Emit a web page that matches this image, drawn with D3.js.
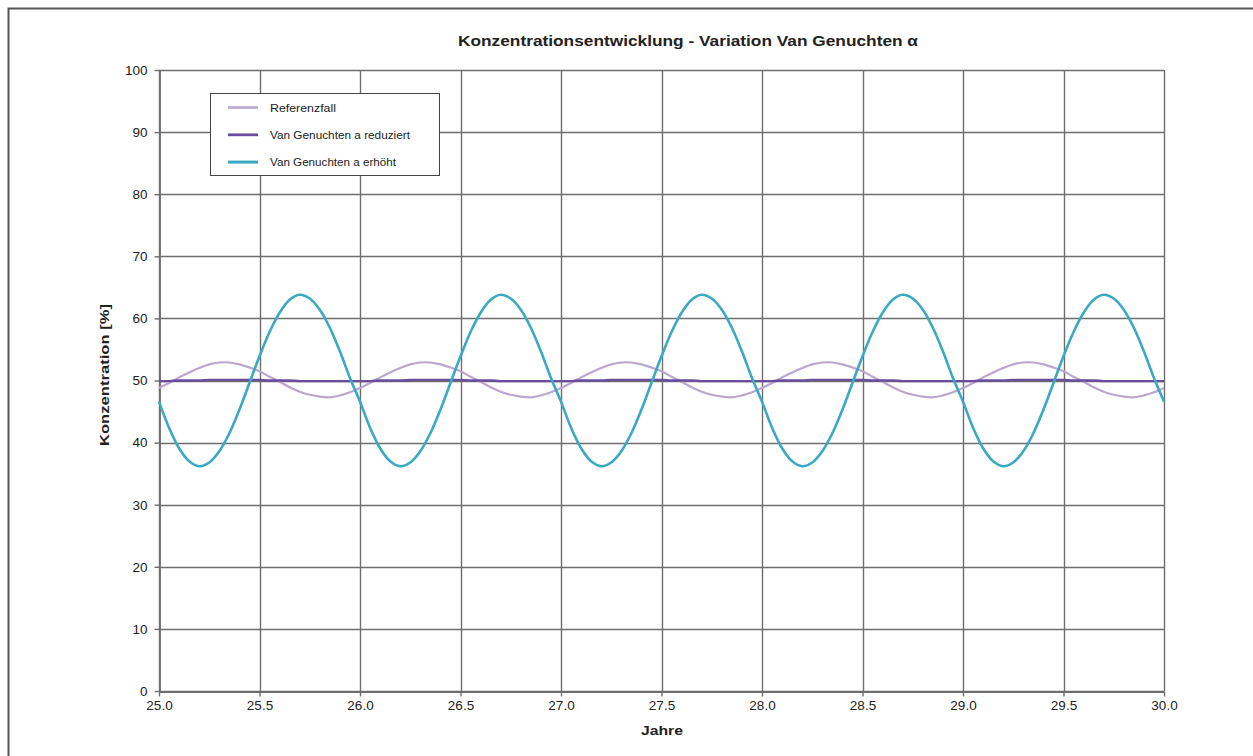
<!DOCTYPE html>
<html>
<head>
<meta charset="utf-8">
<script src="https://cdn.jsdelivr.net/npm/d3@7/dist/d3.min.js"></script>
<style>
  html, body { margin: 0; padding: 0; background: #fff; }
  svg { display: block; font-family: "Liberation Sans", Arial, Helvetica, sans-serif; }
</style>
</head>
<body>
<svg id="chart" width="1253" height="756"></svg>
<script>
// ---- Data ----
const years = [
  25.00,25.05,25.10,25.15,25.20,25.25,25.30,25.35,25.40,25.45,25.50,25.55,25.60,25.65,25.70,25.75,25.80,25.85,25.90,25.95,
  26.00,26.05,26.10,26.15,26.20,26.25,26.30,26.35,26.40,26.45,26.50,26.55,26.60,26.65,26.70,26.75,26.80,26.85,26.90,26.95,
  27.00,27.05,27.10,27.15,27.20,27.25,27.30,27.35,27.40,27.45,27.50,27.55,27.60,27.65,27.70,27.75,27.80,27.85,27.90,27.95,
  28.00,28.05,28.10,28.15,28.20,28.25,28.30,28.35,28.40,28.45,28.50,28.55,28.60,28.65,28.70,28.75,28.80,28.85,28.90,28.95,
  29.00,29.05,29.10,29.15,29.20,29.25,29.30,29.35,29.40,29.45,29.50,29.55,29.60,29.65,29.70,29.75,29.80,29.85,29.90,29.95,
  30.00
];
const referenzfall = [
  48.8,49.6,50.5,51.3,52.0,52.6,52.9,52.9,52.6,52.1,51.5,50.6,49.8,48.9,48.2,47.7,47.4,47.3,47.6,48.1,
  48.8,49.6,50.5,51.3,52.0,52.6,52.9,52.9,52.6,52.1,51.5,50.6,49.8,48.9,48.2,47.7,47.4,47.3,47.6,48.1,
  48.8,49.6,50.5,51.3,52.0,52.6,52.9,52.9,52.6,52.1,51.5,50.6,49.8,48.9,48.2,47.7,47.4,47.3,47.6,48.1,
  48.8,49.6,50.5,51.3,52.0,52.6,52.9,52.9,52.6,52.1,51.5,50.6,49.8,48.9,48.2,47.7,47.4,47.3,47.6,48.1,
  48.8,49.6,50.5,51.3,52.0,52.6,52.9,52.9,52.6,52.1,51.5,50.6,49.8,48.9,48.2,47.7,47.4,47.3,47.6,48.1,
  48.8
];
const alphaReduziert = [
  49.9,49.9,50.0,50.0,50.0,50.1,50.1,50.1,50.1,50.1,50.1,50.0,50.0,50.0,49.9,49.9,49.9,49.9,49.9,49.9,
  49.9,49.9,50.0,50.0,50.0,50.1,50.1,50.1,50.1,50.1,50.1,50.0,50.0,50.0,49.9,49.9,49.9,49.9,49.9,49.9,
  49.9,49.9,50.0,50.0,50.0,50.1,50.1,50.1,50.1,50.1,50.1,50.0,50.0,50.0,49.9,49.9,49.9,49.9,49.9,49.9,
  49.9,49.9,50.0,50.0,50.0,50.1,50.1,50.1,50.1,50.1,50.1,50.0,50.0,50.0,49.9,49.9,49.9,49.9,49.9,49.9,
  49.9,49.9,50.0,50.0,50.0,50.1,50.1,50.1,50.1,50.1,50.1,50.0,50.0,50.0,49.9,49.9,49.9,49.9,49.9,49.9,
  49.9
];
const alphaErhoeht = [
  46.6,42.4,39.1,37.0,36.2,36.8,38.6,41.5,45.3,49.6,53.9,57.8,60.9,63.0,63.8,63.2,61.4,58.5,54.7,50.4,
  46.6,42.4,39.1,37.0,36.2,36.8,38.6,41.5,45.3,49.6,53.9,57.8,60.9,63.0,63.8,63.2,61.4,58.5,54.7,50.4,
  46.6,42.4,39.1,37.0,36.2,36.8,38.6,41.5,45.3,49.6,53.9,57.8,60.9,63.0,63.8,63.2,61.4,58.5,54.7,50.4,
  46.6,42.4,39.1,37.0,36.2,36.8,38.6,41.5,45.3,49.6,53.9,57.8,60.9,63.0,63.8,63.2,61.4,58.5,54.7,50.4,
  46.6,42.4,39.1,37.0,36.2,36.8,38.6,41.5,45.3,49.6,53.9,57.8,60.9,63.0,63.8,63.2,61.4,58.5,54.7,50.4,
  46.6
];
const xTicks = [25.0,25.5,26.0,26.5,27.0,27.5,28.0,28.5,29.0,29.5,30.0];
const yTicks = [0,10,20,30,40,50,60,70,80,90,100];
const seriesNames = ["Referenzfall", "Van Genuchten a reduziert", "Van Genuchten a erhöht"];
const seriesColors = ["#bba6cf", "#6b4d9e", "#3aa9c2"];
const titleText = "Konzentrationsentwicklung - Variation Van Genuchten α";
const xLabel = "Jahre";
const yLabel = "Konzentration [%]";

// ---- Drawing ----
const svg = d3.select("#chart");
const W = 1253, H = 756;
const margin = { left: 159, top: 70, right: W - 1164, bottom: H - 691 };

// outer frame (clipped at right/bottom like the reference)
svg.append("path")
  .attr("d", `M8.5,${H + 5} L8.5,8.5 L${W + 5},8.5`)
  .attr("fill", "none").attr("stroke", "#555").attr("stroke-width", 2);

const x = d3.scaleLinear().domain([25, 30]).range([margin.left, W - margin.right]);
const y = d3.scaleLinear().domain([0, 100]).range([H - margin.bottom, margin.top]);

const gridColor = "#6e6e6e";
// grid
const grid = svg.append("g");
grid.selectAll("line.v").data(xTicks).join("line")
  .attr("x1", d => Math.round(x(d)) + 0.5).attr("x2", d => Math.round(x(d)) + 0.5)
  .attr("y1", y(0)).attr("y2", y(100))
  .attr("stroke", gridColor).attr("stroke-width", 1.4);
grid.selectAll("line.h").data(yTicks).join("line")
  .attr("y1", d => Math.round(y(d)) + 0.5).attr("y2", d => Math.round(y(d)) + 0.5)
  .attr("x1", x(25)).attr("x2", x(30))
  .attr("stroke", gridColor).attr("stroke-width", 1.4);

// axes
const xAxis = svg.append("g").attr("transform", `translate(0,${Math.round(y(0)) + 0.5})`)
  .call(d3.axisBottom(x).tickValues(xTicks).tickFormat(d3.format(".1f")).tickSize(5).tickSizeOuter(0));
const yAxis = svg.append("g").attr("transform", `translate(${Math.round(x(25)) + 0.5},0)`)
  .call(d3.axisLeft(y).tickValues(yTicks).tickFormat(d3.format("d")).tickSize(5).tickSizeOuter(0));
[xAxis, yAxis].forEach(a => {
  a.select(".domain").attr("stroke", gridColor).attr("stroke-width", 1.8);
  a.selectAll(".tick line").attr("stroke", gridColor).attr("stroke-width", 1.4);
  a.selectAll(".tick text").attr("fill", "#222").style("font-size", "13.5px")
    .style("font-family", "'Liberation Sans', Arial, sans-serif");
});
xAxis.selectAll(".tick text").attr("dy", "0.9em").attr("y", 6);
yAxis.selectAll(".tick text").attr("x", -12);

// lines
const allSeries = [referenzfall, alphaReduziert, alphaErhoeht];
const widths = [2.2, 2.4, 2.6];
const line = d3.line().x((d, i) => x(years[i])).y(d => y(d)).curve(d3.curveCatmullRom);
allSeries.forEach((s, k) => {
  svg.append("path").datum(s)
    .attr("d", line)
    .attr("fill", "none")
    .attr("stroke", seriesColors[k])
    .attr("stroke-width", widths[k])
    .attr("stroke-linejoin", "round");
});

// title and axis labels
svg.append("text").attr("x", 688).attr("y", 46).attr("text-anchor", "middle")
  .attr("textLength", 460).attr("lengthAdjust", "spacingAndGlyphs")
  .style("font-size", "15.5px").style("font-weight", "bold").attr("fill", "#222").text(titleText);
svg.append("text").attr("x", 662).attr("y", 735).attr("text-anchor", "middle")
  .attr("textLength", 42).attr("lengthAdjust", "spacingAndGlyphs")
  .style("font-size", "13.5px").style("font-weight", "bold").attr("fill", "#222").text(xLabel);
svg.append("text").attr("transform", "translate(109,375) rotate(-90)").attr("text-anchor", "middle")
  .attr("textLength", 142).attr("lengthAdjust", "spacingAndGlyphs")
  .style("font-size", "13.5px").style("font-weight", "bold").attr("fill", "#222").text(yLabel);

// legend
const lg = svg.append("g");
lg.append("rect").attr("x", 210.5).attr("y", 93.5).attr("width", 229).attr("height", 82)
  .attr("fill", "#fff").attr("stroke", "#444").attr("stroke-width", 1);
const legendLens = [66, 140, 126];
seriesNames.forEach((name, k) => {
  const yy = 107.5 + k * 27.3;
  lg.append("line").attr("x1", 228).attr("x2", 258).attr("y1", yy).attr("y2", yy)
    .attr("stroke", seriesColors[k]).attr("stroke-width", widths[k] + 0.4);
  lg.append("text").attr("x", 270).attr("y", yy).attr("dy", "0.35em")
    .attr("textLength", legendLens[k]).attr("lengthAdjust", "spacingAndGlyphs")
    .style("font-size", "11.5px").attr("fill", "#222").text(name);
});
</script>
</body>
</html>
